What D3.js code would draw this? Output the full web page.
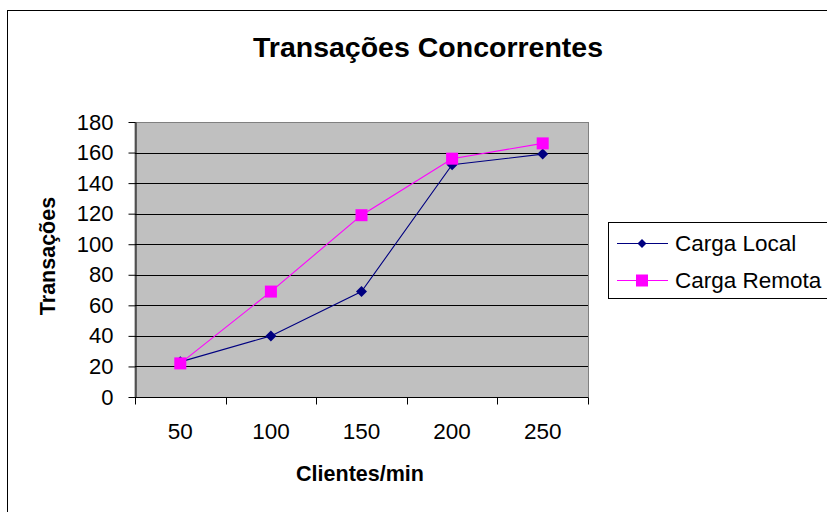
<!DOCTYPE html>
<html>
<head>
<meta charset="utf-8">
<script src="https://cdn.jsdelivr.net/npm/d3@7"></script>
<style>
  html, body { margin: 0; padding: 0; background: #fff; }
  svg { display: block; font-family: "Liberation Sans", Arial, sans-serif; }
</style>
</head>
<body>
<svg id="chart" width="827" height="512"></svg>
<script>
// Clients per minute (x categories)
const categories = ["50", "100", "150", "200", "250"];
// Concurrent transactions per load type
const cargaLocal  = [23, 40, 69, 152, 159];
const cargaRemota = [22, 69, 119, 156, 166];
const yTicks = [0, 20, 40, 60, 80, 100, 120, 140, 160, 180];
const seriesNames = ["Carga Local", "Carga Remota"];
const seriesColors = ["#000080", "#ff00ff"];

const svg = d3.select("#chart");

// outer chart frame (runs past the right and bottom edges)
svg.append("rect")
  .attr("x", 7.5).attr("y", 10.5)
  .attr("width", 840).attr("height", 520)
  .attr("fill", "#fff").attr("stroke", "#000").attr("stroke-width", 1);

const plot = { left: 135, right: 588, top: 122, bottom: 397 };

const x = d3.scaleBand().domain(categories).range([plot.left, plot.right]);
const y = d3.scaleLinear().domain([0, 180]).range([plot.bottom, plot.top]);
const cx = c => x(c) + x.bandwidth() / 2;

// plot background
svg.append("rect")
  .attr("x", plot.left).attr("y", plot.top + 0.5)
  .attr("width", plot.right - plot.left + 0.5).attr("height", plot.bottom - plot.top)
  .attr("fill", "#c0c0c0").attr("stroke", "#808080").attr("stroke-width", 1);

// horizontal gridlines
svg.append("g").selectAll("line")
  .data(yTicks.filter(d => d > 0 && d < 180))
  .join("line")
  .attr("x1", plot.left).attr("x2", plot.right)
  .attr("y1", d => Math.round(y(d)) + 0.5).attr("y2", d => Math.round(y(d)) + 0.5)
  .attr("stroke", "#000").attr("stroke-width", 1);

// y axis
const yAxis = svg.append("g")
  .attr("transform", `translate(${plot.left + 0.5},0)`)
  .call(d3.axisLeft(y).tickValues(yTicks).tickSize(7).tickPadding(15).tickSizeOuter(0));
yAxis.select(".domain").attr("stroke", "#000");
yAxis.selectAll(".tick line").attr("stroke", "#000");
yAxis.selectAll("text").attr("font-size", 22).attr("fill", "#000")
  .attr("font-family", "Liberation Sans, Arial, sans-serif");

// x axis: ticks on category boundaries, labels centred in each band
const xAxisG = svg.append("g").attr("transform", `translate(0,${plot.bottom + 0.5})`);
xAxisG.append("line")
  .attr("x1", plot.left).attr("x2", plot.right)
  .attr("stroke", "#000");
const boundaries = categories.map(c => x(c)).concat([plot.right]);
xAxisG.selectAll("line.tk").data(boundaries).join("line")
  .attr("class", "tk")
  .attr("x1", d => Math.round(d) + 0.5).attr("x2", d => Math.round(d) + 0.5)
  .attr("y1", 0).attr("y2", 7).attr("stroke", "#000");
xAxisG.selectAll("text").data(categories).join("text")
  .attr("x", d => cx(d))
  .attr("y", 41)
  .attr("text-anchor", "middle")
  .attr("font-size", 22.5)
  .text(d => d);

// series lines and markers
const line = d3.line()
  .x((d, i) => cx(categories[i]))
  .y(d => y(d));

function diamondPath(px, py, r) {
  return `M${px},${py - r}L${px + r},${py}L${px},${py + r}L${px - r},${py}Z`;
}

svg.append("path").datum(cargaLocal)
  .attr("d", line).attr("fill", "none").attr("stroke", seriesColors[0]).attr("stroke-width", 1.1);
svg.append("path").datum(cargaRemota)
  .attr("d", line).attr("fill", "none").attr("stroke", seriesColors[1]).attr("stroke-width", 1.1);

svg.append("g").selectAll("path")
  .data(cargaLocal).join("path")
  .attr("d", (d, i) => diamondPath(cx(categories[i]), y(d), 5.5))
  .attr("fill", seriesColors[0]);

svg.append("g").selectAll("rect")
  .data(cargaRemota).join("rect")
  .attr("x", (d, i) => cx(categories[i]) - 6)
  .attr("y", d => y(d) - 6)
  .attr("width", 12).attr("height", 12)
  .attr("fill", seriesColors[1]);

// title
svg.append("text")
  .attr("x", 428).attr("y", 57)
  .attr("text-anchor", "middle")
  .attr("font-size", 28.5).attr("font-weight", "bold")
  .text("Transações Concorrentes");

// axis titles
svg.append("text")
  .attr("transform", "translate(55,256) rotate(-90)")
  .attr("text-anchor", "middle")
  .attr("font-size", 21.5).attr("font-weight", "bold")
  .text("Transações");

svg.append("text")
  .attr("x", 360).attr("y", 481)
  .attr("text-anchor", "middle")
  .attr("font-size", 21.5).attr("font-weight", "bold")
  .text("Clientes/min");

// legend
const lg = svg.append("g");
lg.append("rect")
  .attr("x", 608.5).attr("y", 222.5).attr("width", 240).attr("height", 76)
  .attr("fill", "#fff").attr("stroke", "#000");
seriesNames.forEach((name, i) => {
  const ly = 243.5 + i * 37;
  lg.append("line").attr("x1", 617).attr("x2", 668).attr("y1", ly).attr("y2", ly)
    .attr("stroke", seriesColors[i]).attr("stroke-width", 1.1);
  if (i === 0) {
    lg.append("path").attr("d", diamondPath(642, ly, 4.5)).attr("fill", seriesColors[i]);
  } else {
    lg.append("rect").attr("x", 636).attr("y", ly - 6).attr("width", 12).attr("height", 12)
      .attr("fill", seriesColors[i]);
  }
  lg.append("text").attr("x", 675).attr("y", ly + 7)
    .attr("font-size", 22.5).text(name);
});
</script>
</body>
</html>
